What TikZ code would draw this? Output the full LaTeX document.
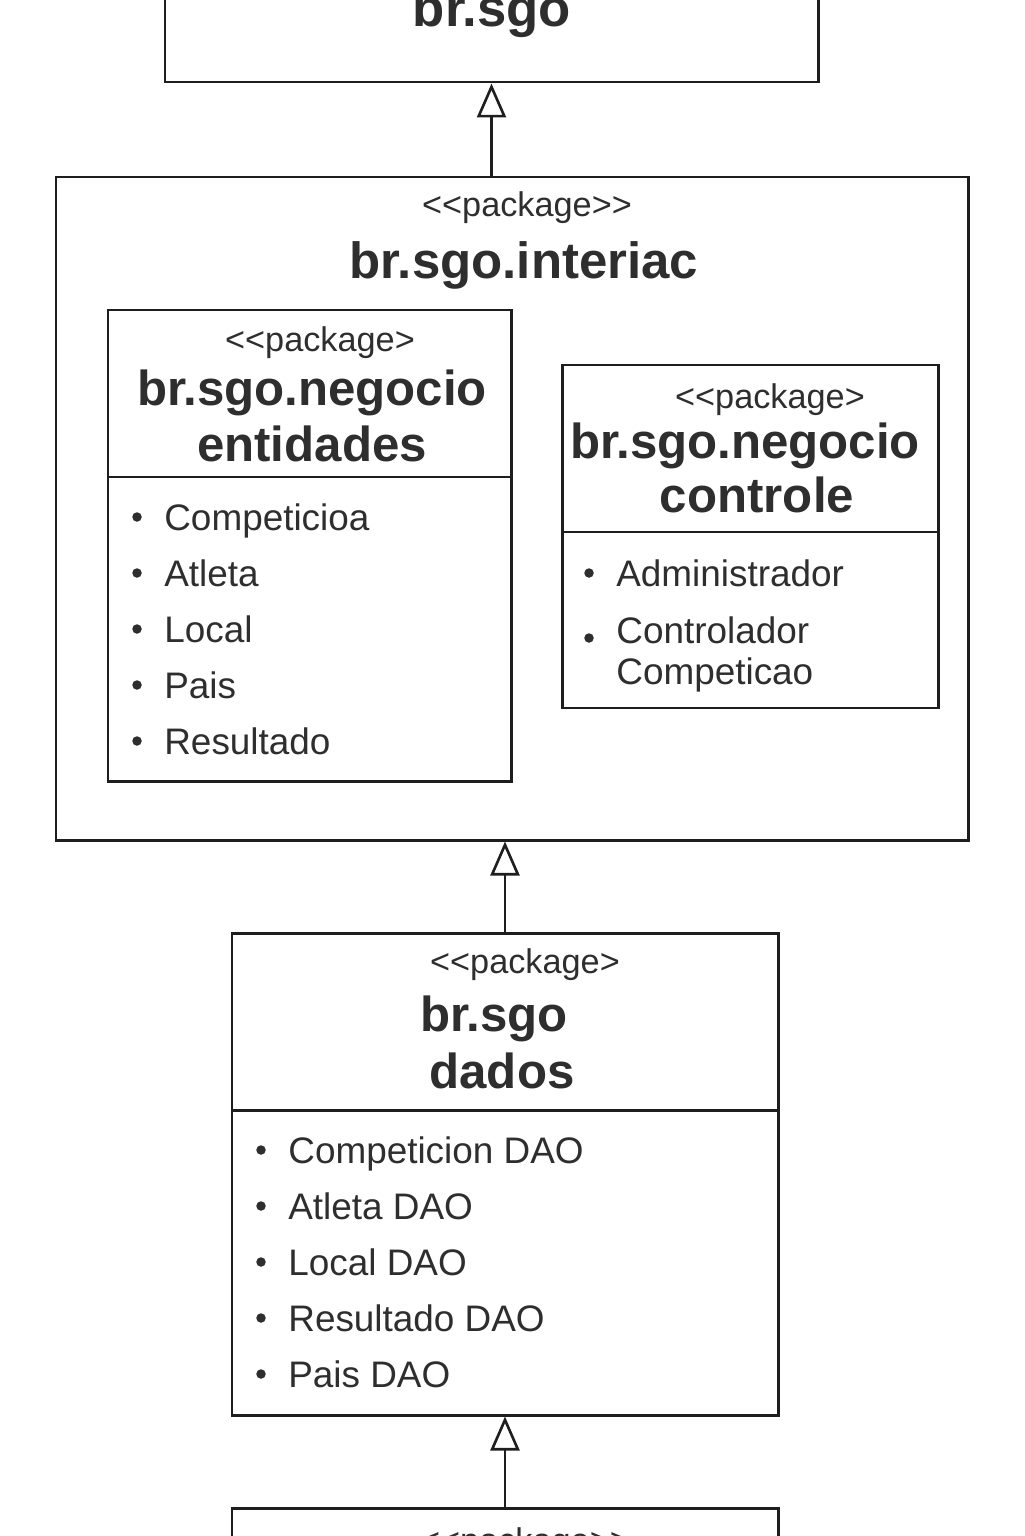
\documentclass[tikz,border=0pt]{standalone}
\usepackage{fontspec}
\setmainfont{Liberation Sans}
\usepackage{xcolor}
\usetikzlibrary{arrows.meta,calc}

\definecolor{inkline}{HTML}{1E1E1E}
\definecolor{inktext}{HTML}{2E2E2E}

\newcommand{\stlt}{<\kern0pt<\kern0pt}
\newcommand{\stgt}{\kern0pt>\kern0pt}

\begin{document}
\begin{tikzpicture}[
    pkg/.style={
        rectangle,
        draw=inkline,
        line width=1.7pt,
        inner sep=0pt
    },
    stereo/.style={
        anchor=base,
        inner sep=0pt,
        text=inktext,
        font=\fontsize{19.5}{23}\selectfont
    },
    title/.style={
        anchor=base,
        inner sep=0pt,
        text=inktext,
        font=\fontsize{28}{32}\selectfont\bfseries
    },
    item/.style={
        anchor=base west,
        inner sep=0pt,
        text=inktext,
        font=\fontsize{21}{25}\selectfont
    },
    dot/.style={
        circle,
        fill=inktext,
        inner sep=0pt,
        minimum size=0.19cm
    },
    inherit/.style={
        -{Triangle[open,length=0.68cm,width=0.58cm]},
        draw=inkline,
        line width=1.5pt
    }
]

\clip (0,0) rectangle (20.48,-30.72);

% Package boxes
\node[pkg, minimum width=13.06cm, minimum height=2.84cm] (sgo)       at (9.83,-0.22)   {};
\node[pkg, minimum width=18.24cm, minimum height=13.26cm] (interface) at (10.24,-10.17) {};
\node[pkg, minimum width=8.06cm,  minimum height=9.42cm]  (entidades) at (6.19,-10.91)  {};
\node[pkg, minimum width=7.52cm,  minimum height=6.86cm]  (controle)  at (15.00,-10.73) {};
\node[pkg, minimum width=10.92cm, minimum height=9.64cm]  (dados)     at (10.10,-23.48) {};
\node[pkg, minimum width=10.92cm, minimum height=2.84cm]  (base)      at (10.10,-31.58) {};

% Compartment lines
\draw[draw=inkline, line width=1.7pt] (entidades.west |- 0,-9.54)  -- (entidades.east |- 0,-9.54);
\draw[draw=inkline, line width=1.7pt] (controle.west |- 0,-10.64)  -- (controle.east |- 0,-10.64);
\draw[draw=inkline, line width=1.7pt] (dados.west |- 0,-22.20)     -- (dados.east |- 0,-22.20);

% Headers
\node[title, font=\fontsize{30}{34}\selectfont\bfseries]
               (sgo-name)   at (9.84,-0.54)  {br.sgo};

\node[stereo]  (iface-st)   at (10.54,-4.34) {\stlt package\stgt\stgt};
\node[title, font=\fontsize{29}{33}\selectfont\bfseries]
               (iface-name) at (10.48,-5.58) {br.sgo.interiac};

\node[stereo]  (ent-st)     at (6.40,-7.04)  {\stlt package\stgt};
\node[title]   (ent-name)   at (6.24,-8.10)  {br.sgo.negocio};
\node[title]   (ent-sub)    at (6.24,-9.22)  {entidades};

\node[stereo]  (ctl-st)     at (15.40,-8.16) {\stlt package\stgt};
\node[title]   (ctl-name)   at (14.90,-9.16) {br.sgo.negocio};
\node[title]   (ctl-sub)    at (15.14,-10.24) {controle};

\node[stereo]  (dao-st)     at (10.50,-19.46) {\stlt package\stgt};
\node[title]   (dao-name)   at (9.88,-20.62) {br.sgo};
\node[title]   (dao-sub)    at (10.04,-21.76) {dados};

\node[stereo]  (base-st)    at (10.50,-31.04) {\stlt package\stgt\stgt};

% Entity items
\foreach \name [count=\i] in {Competicioa,Atleta,Local,Pais,Resultado} {
    \node[item] (ent-\i) at (3.28,{-10.60-1.12*(\i-1)}) {\name};
    \node[dot]  (ent-dot-\i) at (2.74,{-10.34-1.12*(\i-1)}) {};
}

% Controller items
\node[item] (ctl-1)  at (12.32,-11.72) {Administrador};
\node[dot]  (ctl-dot-1) at (11.78,-11.46) {};
\node[item] (ctl-2)  at (12.32,-12.86) {Controlador};
\node[item] (ctl-2b) at (12.32,-13.68) {Competicao};
\node[dot]  (ctl-dot-2) at (11.78,-12.76) {};

% DAO items
\foreach \name [count=\i] in {Competicion DAO,Atleta DAO,Local DAO,Resultado DAO,Pais DAO} {
    \node[item] (dao-\i) at (5.76,{-23.26-1.12*(\i-1)}) {\name};
    \node[dot]  (dao-dot-\i) at (5.22,{-23.00-1.12*(\i-1)}) {};
}

% Dependencies
\draw[inherit] (interface.north -| sgo.south) -- (sgo.south);
\draw[inherit] (dados.north) -- (dados.north |- interface.south);
\draw[inherit] (base.north) -- (dados.south);

\end{tikzpicture}
\end{document}
